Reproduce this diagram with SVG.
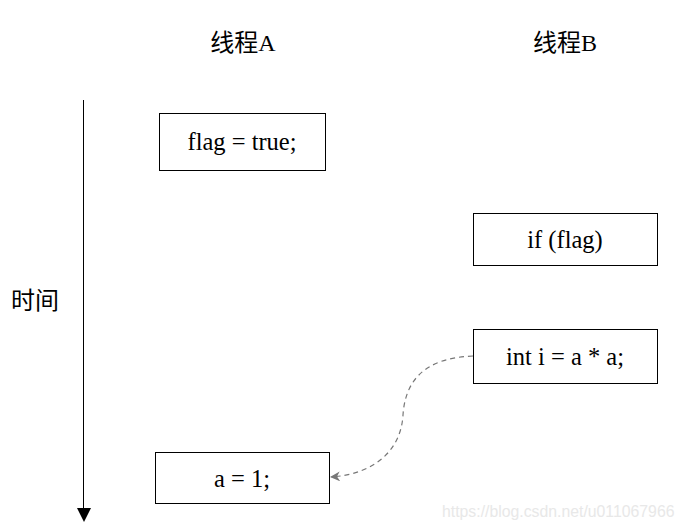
<svg xmlns="http://www.w3.org/2000/svg" width="685" height="530" viewBox="0 0 685 530">
<style>
.box{fill:#fff;stroke:#000;stroke-width:1}
.t{font-family:"Liberation Serif","Noto Sans CJK SC",serif;font-size:24.5px;fill:#000;text-anchor:middle}
.h{font-family:"Liberation Serif","Noto Sans CJK SC",serif;font-size:24px;fill:#000;text-anchor:middle}
.wm{font-family:"Liberation Sans",sans-serif;font-size:15.8px;fill:#e8e8e8}
</style>
<defs>
<marker id="ah" viewBox="0 0 10 10" refX="9" refY="5" markerWidth="10" markerHeight="10" markerUnits="userSpaceOnUse" orient="auto">
<path d="M0,0 L10,5 L0,10 L3,5 Z" fill="#777"/>
</marker>
</defs>
<rect width="685" height="530" fill="#fff"/>
<g id="headerA"><text class="h" x="243" y="51">线程A</text></g>
<g id="headerB"><text class="h" x="565" y="51">线程B</text></g>
<g id="timeline">
<line x1="83.5" y1="100" x2="83.5" y2="509" stroke="#000" stroke-width="1"/>
<polygon points="77,508 91,508 84,522" fill="#000"/>
<text class="h" x="35" y="309">时间</text>
</g>
<g id="n1"><rect class="box" x="159.5" y="113.5" width="166" height="57"/><text class="t" x="242" y="150">flag = true;</text></g>
<g id="n2"><rect class="box" x="473.5" y="213.5" width="184" height="52"/><text class="t" x="565" y="248">if (flag)</text></g>
<g id="n3"><rect class="box" x="473.5" y="329.5" width="184" height="54"/><text class="t" x="565" y="365">int i = a * a;</text></g>
<g id="n4"><rect class="box" x="155.5" y="452.5" width="174" height="51"/><text class="t" x="242" y="487">a = 1;</text></g>
<g id="connectors">
<path d="M473,356 C420,358 405,385 403,415 C401,450 375,474 331,477" fill="none" stroke="#777" stroke-width="1.2" stroke-dasharray="5,4" marker-end="url(#ah)"/>
</g>
<text class="wm" x="442" y="517">https://blog.csdn.net/u011067966</text>
</svg>
